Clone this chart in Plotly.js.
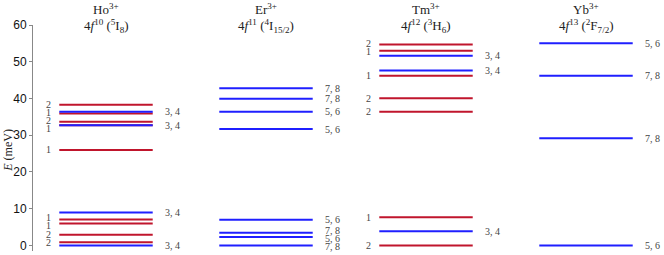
<!DOCTYPE html>
<html>
<head>
<meta charset="utf-8">
<script src="https://cdn.plot.ly/plotly-3.0.1.min.js"></script>
<style>html,body{margin:0;padding:0;background:#fff;}#chart{width:664px;height:255px;}</style>
</head>
<body>
<div id="chart"></div>
<script>
// ---- data ----
const ionNames = ['Ho<sup>3+</sup>', 'Er<sup>3+</sup>', 'Tm<sup>3+</sup>', 'Yb<sup>3+</sup>'];
const ionConfigs = [
  '4<i>f</i><sup>10</sup> (<sup>5</sup>I<sub>8</sub>)',
  '4<i>f</i><sup>11</sup> (<sup>4</sup>I<sub>15/2</sub>)',
  '4<i>f</i><sup>12</sup> (<sup>3</sup>H<sub>6</sub>)',
  '4<i>f</i><sup>13</sup> (<sup>2</sup>F<sub>7/2</sub>)'
];
// energies (meV), kind ('r' singlet-type / 'b' doublet-type), label
const hoE = [0, 0.9, 2.9, 6.0, 7.1, 9.0, 26.0, 32.7, 32.7, 33.7, 35.9, 36.4, 38.3];
const hoK = ['b','r','r','r','r','b','r','r','b','r','r','b','r'];
const hoL = ['3, 4','2','2','1','1','3, 4','1','1','3, 4','2','1','3, 4','2'];

const erE = [0, 2.3, 3.5, 7.0, 31.7, 36.4, 39.9, 42.8];
const erK = ['b','b','b','b','b','b','b','b'];
const erL = ['7, 8','5, 6','7, 8','5, 6','5, 6','5, 6','7, 8','7, 8'];

const tmE = [0, 3.9, 7.7, 36.4, 40.1, 46.2, 47.6, 51.6, 53.0, 54.7];
const tmK = ['r','b','r','r','r','r','b','b','r','r'];
const tmL = ['2','3, 4','1','2','2','1','3, 4','3, 4','1','2'];

const ybE = [0, 29.2, 46.2, 55.0];
const ybK = ['b','b','b','b'];
const ybL = ['5, 6','7, 8','7, 8','5, 6'];

const yTicks = [0, 10, 20, 30, 40, 50, 60];
const yLabel = '<i>E</i> (meV)';

// ---- drawing ----
const ions = [[hoE, hoK, hoL], [erE, erK, erL], [tmE, tmK, tmL], [ybE, ybK, ybL]];
const colors = {r: '#c0152c', b: '#1f1fff'};
const halfW = 0.292;
const serif = 'Liberation Serif, Times New Roman, serif';
const plotH = 226, yMin = -1.5, yMax = 60;
const pxPerUnit = plotH / (yMax - yMin);
const minGap = 8 / pxPerUnit;

function spread(vals) {
  const idx = vals.map((v, i) => i).sort((a, b) => vals[a] - vals[b]);
  const pos = idx.map(i => vals[i]);
  for (let it = 0; it < 100; it++) {
    for (let j = 1; j < pos.length; j++) {
      const d = pos[j] - pos[j - 1];
      if (d < minGap) { const s = (minGap - d) / 2; pos[j] += s; pos[j - 1] -= s; }
    }
  }
  const out = new Array(vals.length);
  idx.forEach((i, k) => out[i] = pos[k]);
  return out;
}

const traces = [];
const annotations = [];
['r', 'b'].forEach(kind => {
  ions.forEach(([E, K, L], i) => {
    E.forEach((e, j) => {
      if (K[j] !== kind) return;
      traces.push({x: [i - halfW, i + halfW], y: [e, e], mode: 'lines', type: 'scatter',
        line: {color: colors[kind], width: 2}, hoverinfo: 'skip', showlegend: false});
    });
  });
});

ions.forEach(([E, K, L], i) => {
  const leftIdx = [], rightIdx = [];
  E.forEach((e, j) => (K[j] === 'r' ? leftIdx : rightIdx).push(j));
  const lp = spread(leftIdx.map(j => E[j]));
  const rp = spread(rightIdx.map(j => E[j]));
  leftIdx.forEach((j, k) => annotations.push({x: i - halfW - 0.07, y: lp[k], xref: 'x', yref: 'y',
    text: L[j], showarrow: false, xanchor: 'center', yanchor: 'middle',
    font: {family: serif, size: 10, color: '#444'}}));
  rightIdx.forEach((j, k) => annotations.push({x: i + halfW + 0.064, y: rp[k], xref: 'x', yref: 'y',
    text: L[j], showarrow: false, xanchor: 'left', yanchor: 'middle',
    font: {family: serif, size: 10, color: '#444'}}));
  annotations.push({x: i, y: 1.072, xref: 'x', yref: 'paper', text: ionNames[i], showarrow: false,
    xanchor: 'center', yanchor: 'middle', font: {family: serif, size: 13, color: '#222'}});
  annotations.push({x: i, y: 0.997, xref: 'x', yref: 'paper', text: ionConfigs[i], showarrow: false,
    xanchor: 'center', yanchor: 'middle', font: {family: serif, size: 13, color: '#222'}});
});

annotations.push({x: -0.04, y: 0.447, xref: 'paper', yref: 'paper', text: yLabel, textangle: -90,
  showarrow: false, xanchor: 'center', yanchor: 'middle', font: {family: serif, size: 12, color: '#222'}});

const layout = {
  width: 664, height: 255,
  margin: {l: 33, r: 0, t: 25, b: 4},
  paper_bgcolor: '#fff', plot_bgcolor: '#fff',
  showlegend: false,
  xaxis: {range: [-0.45625, 3.4875], visible: false, fixedrange: true},
  yaxis: {range: [yMin, yMax], tickvals: yTicks, ticktext: yTicks.map(String),
    showline: true, linecolor: '#888', linewidth: 1, ticks: 'outside', ticklen: 3, tickcolor: '#888',
    showgrid: false, zeroline: false, tickfont: {family: 'Liberation Sans, Arial, sans-serif', size: 12, color: '#111'}},
  annotations: annotations
};

Plotly.newPlot('chart', traces, layout, {staticPlot: true, displayModeBar: false});
</script>
</body>
</html>
